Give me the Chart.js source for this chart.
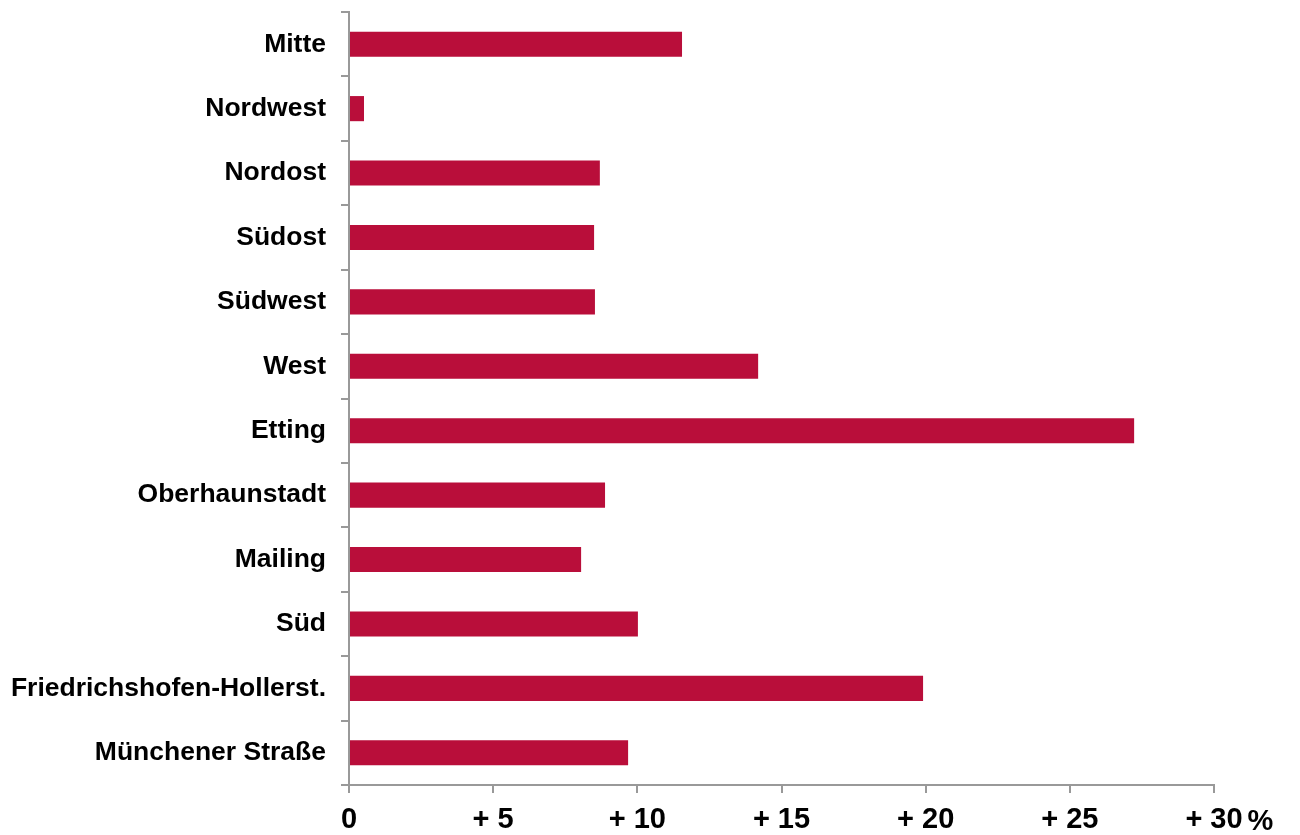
<!DOCTYPE html>
<html>
<head>
<meta charset="utf-8">
<script src="https://cdn.jsdelivr.net/npm/chart.js@4/dist/chart.umd.min.js"></script>
<style>
  body { margin: 0; background: #fff; }
</style>
</head>
<body>
<canvas id="districtChart" width="1300" height="835"></canvas>
<script>
// Veränderung je Stadtbezirk in %
const districts = ['Mitte', 'Nordwest', 'Nordost', 'Südost', 'Südwest', 'West', 'Etting',
    'Oberhaunstadt', 'Mailing', 'Süd', 'Friedrichshofen-Hollerst.', 'Münchener Straße'];
const changes = [11.55, 0.52, 8.7, 8.5, 8.53, 14.19, 27.23, 8.88, 8.05, 10.02, 19.91, 9.68];
const xTicks = [0, 5, 10, 15, 20, 25, 30];

const axisGray = '#999999';
const barRed = 'rgb(185, 14, 58)';
const fontFamily = '"Liberation Sans", Arial, sans-serif';

// draws the "%" after the last x tick label
const percentSign = {
    id: 'percentSign',
    afterDraw(chart) {
        const x = chart.scales.x;
        const ctx = chart.ctx;
        const last = xTicks[xTicks.length - 1];
        ctx.save();
        ctx.font = 'bold 29px ' + fontFamily;
        const w = ctx.measureText('+ ' + last).width;
        ctx.fillStyle = '#000';
        ctx.textBaseline = 'alphabetic';
        ctx.textAlign = 'left';
        ctx.fillText('%', x.getPixelForValue(last) + w / 2 + 5, 830);
        ctx.restore();
    }
};

new Chart(document.getElementById('districtChart').getContext('2d'), {
    type: 'bar',
    data: {
        labels: districts,
        datasets: [{
            data: changes,
            backgroundColor: barRed,
            borderWidth: 0,
            barPercentage: 0.39,
            categoryPercentage: 1.0
        }]
    },
    plugins: [percentSign],
    options: {
        indexAxis: 'y',
        responsive: false,
        animation: false,
        layout: { padding: { top: 12, right: 86, left: 0, bottom: 0 } },
        plugins: {
            legend: { display: false },
            tooltip: { enabled: false }
        },
        scales: {
            x: {
                min: 0,
                max: 30,
                afterBuildTicks: function(axis) {
                    axis.ticks = xTicks.map(v => ({ value: v }));
                },
                afterFit: function(axis) { axis.height = 50; },
                border: { display: true, color: axisGray, width: 2 },
                grid: {
                    drawOnChartArea: false,
                    drawTicks: true,
                    tickLength: 8,
                    color: axisGray,
                    lineWidth: 2
                },
                ticks: {
                    color: '#000',
                    padding: 10,
                    maxRotation: 0,
                    font: { family: fontFamily, size: 29, weight: 'bold' },
                    callback: function(value) {
                        return value === 0 ? '0' : '+ ' + value;
                    }
                }
            },
            y: {
                afterFit: function(axis) {
                    axis.width = 349;
                    axis.paddingTop = 0;
                    axis.paddingBottom = 0;
                },
                border: { display: true, color: axisGray, width: 2 },
                grid: {
                    offset: true,
                    drawOnChartArea: false,
                    drawTicks: true,
                    tickLength: 8,
                    color: axisGray,
                    lineWidth: 2
                },
                ticks: {
                    color: '#000',
                    padding: 15,
                    font: { family: fontFamily, size: 26.5, weight: 'bold', lineHeight: 1.1 }
                }
            }
        }
    }
});
</script>
</body>
</html>
